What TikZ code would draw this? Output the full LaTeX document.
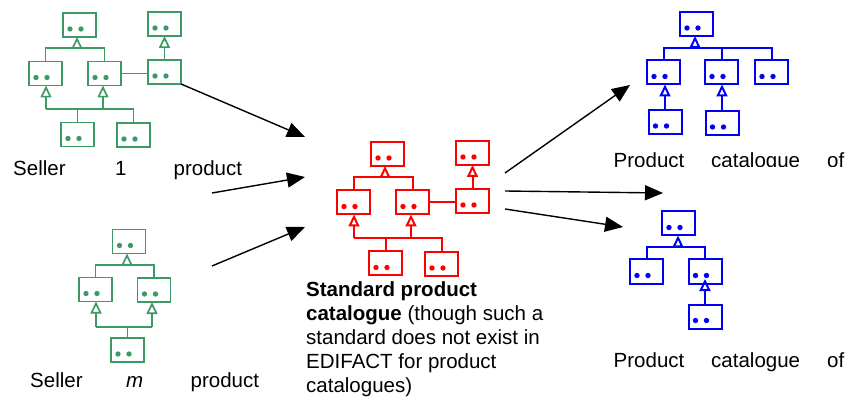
\documentclass[tikz,border=0pt]{standalone}
\usepackage{fontspec}
\setmainfont{Liberation Sans}
\usetikzlibrary{arrows.meta,calc}
\definecolor{sgreen}{RGB}{60,155,100}
\definecolor{sred}{RGB}{255,0,0}
\definecolor{sblue}{RGB}{0,0,245}
\tikzset{
 cls/.style={draw=#1, rectangle, minimum width=33pt, minimum height=24pt, inner sep=0pt, outer sep=0pt,
   path picture={\fill[#1] ([shift={(7pt,8pt)}]path picture bounding box.south west) circle (2.7pt)
                           ([shift={(18pt,8pt)}]path picture bounding box.south west) circle (2.7pt);}},
 inh/.style={-{Triangle[open,length=12pt,width=11pt]}},
 bigarrow/.style={line width=1.4pt, -{Triangle[length=18pt,width=15pt]}},
 lbl/.style={anchor=base west, inner sep=0pt, font=\fontsize{20.5}{24}\selectfont},
}
\newcommand\treeOne[4]{%
\begin{scope}[shift={#3}, draw=#2, line width=#4]
 \node[cls=#2] (#1A) at (79.5,25) {};
 \node[cls=#2] (#1B) at (164.5,24) {};
 \node[cls=#2] (#1C) at (45.5,73.5) {};
 \node[cls=#2] (#1D) at (104.5,73.5) {};
 \node[cls=#2] (#1E) at (164.5,72) {};
 \node[cls=#2] (#1F) at (77.5,134.5) {};
 \node[cls=#2] (#1G) at (133.5,135) {};
 \coordinate (#1a) at (77,48);
 \draw (#1C.north) |- (#1a) -| (#1D.north);
 \draw[inh] (#1a) -- (#1a |- #1A.south);
 \coordinate (#1b) at (46,109);
 \coordinate (#1c) at (103,109);
 \draw[inh] (#1b) -- (#1b |- #1C.south);
 \draw[inh] (#1c) -- (#1c |- #1D.south);
 \draw (#1b) -| (#1G.north);
 \draw (#1F.north) -- (#1F.north |- #1b);
 \draw (#1D.east) -- (#1D.east -| #1E.west);
 \draw[inh] (#1E.north) -- (#1E.north |- #1B.south);
\end{scope}}
\begin{document}
\begin{tikzpicture}[x=1pt,y=-1pt]
\useasboundingbox (0,0) rectangle (849,398);

% Seller 1 (green) and standard (red)
\treeOne{g}{sgreen}{(0,0)}{1.7pt}
\treeOne{r}{sred}{(308,129)}{2pt}

% Seller m (green)
\begin{scope}[draw=sgreen, line width=1.7pt]
 \node[cls=sgreen] (mA) at (129,241.5) {};
 \node[cls=sgreen] (mC) at (95.5,289.5) {};
 \node[cls=sgreen] (mD) at (154,290) {};
 \node[cls=sgreen] (mF) at (127.5,350) {};
 \coordinate (ma) at (127,265);
 \draw (mC.north) |- (ma) -| (mD.north);
 \draw[inh] (ma) -- (ma |- mA.south);
 \coordinate (mb) at (96,327);
 \coordinate (mc) at (152,327);
 \draw[inh] (mb) -- (mb |- mC.south);
 \draw[inh] (mc) -- (mc |- mD.south);
 \draw (mb) -- (mc);
 \draw (mF.north) -- (mF.north |- mb);
\end{scope}

% Blue top
\begin{scope}[draw=sblue, line width=2pt]
 \node[cls=sblue] (uA) at (696.5,24) {};
 \node[cls=sblue] (uC) at (663.5,72.5) {};
 \node[cls=sblue] (uD) at (721.5,72.5) {};
 \node[cls=sblue] (uE) at (771.5,72.5) {};
 \node[cls=sblue] (uF) at (665,122) {};
 \node[cls=sblue] (uG) at (722,123) {};
 \coordinate (ua) at (695,48);
 \draw (uC.north) |- (ua) -| (uE.north);
 \draw (uD.north) -- (uD.north |- ua);
 \draw[inh] (ua) -- (ua |- uA.south);
 \draw[inh] (uF.north) -- (uF.north |- uC.south);
 \draw[inh] (uG.north) -- (uG.north |- uD.south);
\end{scope}

% Blue bottom
\begin{scope}[draw=sblue, line width=2pt]
 \node[cls=sblue] (vA) at (678.5,223.5) {};
 \node[cls=sblue] (vC) at (646.5,271.5) {};
 \node[cls=sblue] (vD) at (705,271.5) {};
 \node[cls=sblue] (vF) at (705,316.5) {};
 \coordinate (va) at (678,247);
 \draw (vC.north) |- (va) -| (vD.north);
 \draw[inh] (va) -- (va |- vA.south);
 \coordinate (vd) at (705,279);
 \draw[inh] (vF.north) -- (vd);
\end{scope}

% Big arrows
\coordinate (t1) at (305,137);
\coordinate (p2) at (212,193); \coordinate (t2) at (305,177);
\coordinate (p3) at (212,266); \coordinate (t3) at (305,227);
\coordinate (p4) at (505,173); \coordinate (t4) at (630,85);
\coordinate (p5) at (505,191); \coordinate (t5) at (663,193);
\coordinate (p6) at (505,209); \coordinate (t6) at (623,227);
\draw[bigarrow] (gE.south east) -- (t1);
\draw[bigarrow] (p2) -- (t2);
\draw[bigarrow] (p3) -- (t3);
\draw[bigarrow] (p4) -- (t4);
\draw[bigarrow] (p5) -- (t5);
\draw[bigarrow] (p6) -- (t6);

% Labels
\node[lbl] (l1a) at (13,176) {Seller};
\node[lbl] (l1b) at (115,176) {1};
\node[lbl] (l1c) at (173.5,176) {product};
\node[lbl] (l2a) at (30,387) {Seller};
\node[lbl] (l2b) at (126,387) {\itshape m};
\node[lbl] (l2c) at (190.5,387) {product};
\begin{scope}
 \clip (600,140) rectangle (849,167);
 \node[lbl] (l3a) at (613.5,168) {Product};
 \node[lbl] (l3b) at (711,168) {catalogue};
 \node[lbl] (l3c) at (827,168) {of};
\end{scope}
\node[lbl] (l4a) at (613.5,367) {Product};
\node[lbl] (l4b) at (711,367) {catalogue};
\node[lbl] (l4c) at (827,367) {of};
\node[lbl] (s1) at (306,297) {\textbf{Standard product}};
\node[lbl] (s2) at (306,320) {\textbf{catalogue} (though such a};
\node[lbl] (s3) at (306,344) {standard does not exist in};
\node[lbl] (s4) at (306,368) {EDIFACT for product};
\node[lbl] (s5) at (306,392) {catalogues)};
\end{tikzpicture}
\end{document}
